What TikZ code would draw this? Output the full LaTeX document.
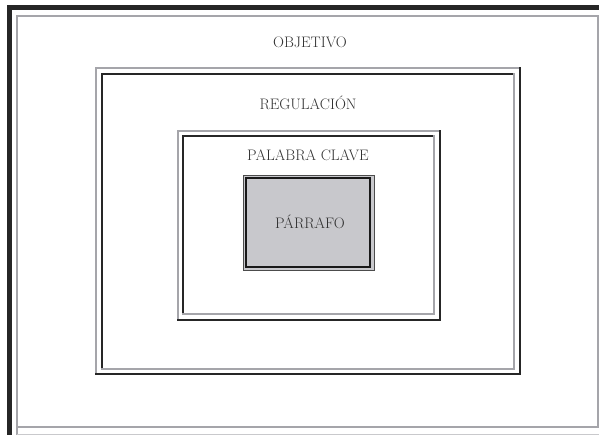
\documentclass[tikz,border=0pt]{standalone}
\usepackage{fontspec}
\usepackage{tikz}
\definecolor{lightline}{RGB}{165,165,170}
\definecolor{boxfill}{RGB}{200,200,204}
\definecolor{labeltext}{RGB}{50,50,50}
% grooved frame: outer corners (#1,#2)-(#3,#4), inner corners (#5,#6)-(#7,#8)
\newcommand{\grooveframe}[8]{
    \draw[greyline] (#1,#4) -- (#1,#2) -- (#3,#2);
    \draw[blackline] (#1,#4) -- (#3,#4) -- (#3,#2);
    \draw[blackline] (#5,#8) -- (#5,#6) -- (#7,#6);
    \draw[greyline] (#5,#8) -- (#7,#8) -- (#7,#6);
}

\begin{document}
\begin{tikzpicture}[x=1pt,y=-1pt,
    greyline/.style = {draw=lightline, line width=1.6pt, line cap=rect},
    blackline/.style = {draw=black!85, line width=1.6pt, line cap=rect},
    label/.style = {text=labeltext, font=\fontsize{15.2}{18}\selectfont, inner sep=0pt}]
        \useasboundingbox (0,0) rectangle (599,435);
        % outer frame
        \draw[black!85, line width=4.5pt] (9.5,435) -- (9.5,7.5) -- (599,7.5);
        \draw[greyline] (17,435) -- (17,16) -- (598,16) -- (598,427) -- (17,427);
        \draw[draw=lightline!60, line width=1pt] (17,434) -- (599,434);
        % regulation and keyword frames
        \grooveframe{96}{68}{520}{374}{102}{74}{514}{369}
        \grooveframe{178}{131}{440}{320}{183}{136}{434}{314}
        % paragraph box
        \draw[fill=boxfill, draw=black!70, line width=0.9pt] (243,175) rectangle (374,270);
        \draw[draw=black!90, line width=1.1pt] (246,178) rectangle (370,267);
        \node[label] (obj) at (310,42) {OBJETIVO};
        \node[label] (reg) at (308,103) {REGULACIÓN};
        \node[label] (key) at (308,155) {PALABRA CLAVE};
        \node[label] (par) at (310,222) {PÁRRAFO};
\end{tikzpicture}
\end{document}
